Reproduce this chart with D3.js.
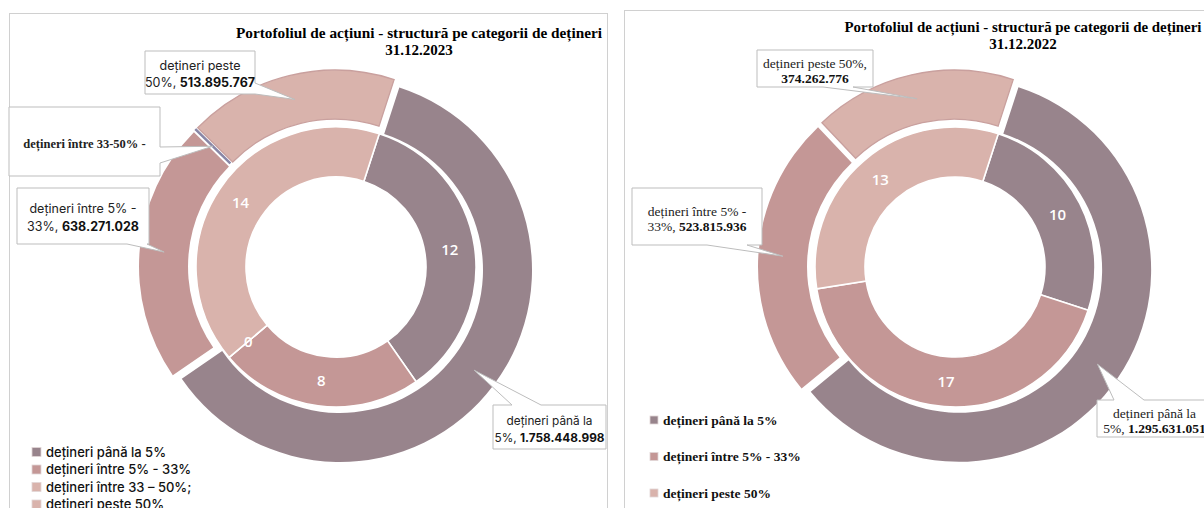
<!DOCTYPE html>
<html>
<head>
<meta charset="utf-8">
<script src="https://cdn.jsdelivr.net/npm/d3@7"></script>
<style>
  body { margin: 0; background: #fff; }
</style>
</head>
<body>
<div class="canvas"></div>
<script>
// data 31.12.2023
const categories2023 = ['până la 5%', '5% - 33%', '33 - 50%', 'peste 50%'];
const values2023 = [1758448998, 638271028, 0, 513895767];
const counts2023 = [12, 8, 0, 14];
const legend2023 = ['dețineri până la 5%', 'dețineri între 5% - 33%', 'dețineri între 33 – 50%;', 'dețineri peste 50%'];
const callouts2023 = ['dețineri până la\n5%, ', 'dețineri între 5% -\n33%, ', 'dețineri între 33-50%  -', 'dețineri peste\n50%, '];

// data 31.12.2022
const categories2022 = ['până la 5%', '5% - 33%', 'peste 50%'];
const values2022 = [1295631051, 523815936, 374262776];
const counts2022 = [10, 17, 13];
const legend2022 = ['dețineri până la 5%', 'dețineri între 5% - 33%', 'dețineri peste 50%'];
const callouts2022 = ['dețineri  până la\n5%, ', 'dețineri  între 5% -\n33%, ', 'dețineri  peste 50%,\n'];

const title = 'Portofoliul de acțiuni - structură  pe categorii de dețineri';

const color = d3.scaleOrdinal()
  .domain(['până la 5%', '5% - 33%', '33 - 50%', 'peste 50%'])
  .range(['#98848c', '#c49796', '#d9b3ac', '#d9b3ac']);

const ro = d3.formatLocale({ decimal: ',', thousands: '.', grouping: [3], currency: ['', ''] });
const fmt = ro.format(',d');

const sans = 'Inter, "Open Sans", sans-serif';
const serif = '"Liberation Serif", "Times New Roman", serif';

const svg = d3
  .select('.canvas')
  .append('svg')
  .attr('width', 1204)
  .attr('height', 508);

// callout box with a wedge pointing at the slice
const calloutPath = (b, tip) => {
  const { x, y, w, h, side, p } = b;
  const [tx, ty] = tip;
  if (side === 'bottom')
    return `M${x},${y}H${x + w}V${y + h}H${p[1]}L${tx},${ty}L${p[0]},${y + h}H${x}Z`;
  if (side === 'top')
    return `M${x},${y}H${p[0]}L${tx},${ty}L${p[1]},${y}H${x + w}V${y + h}H${x}Z`;
  return `M${x},${y}H${x + w}V${p[0]}L${tx},${ty}L${x + w},${p[1]}V${y + h}H${x}Z`;
};

const drawChart = opt => {
  const g = svg.append('g');

  // panel border
  g.append('rect')
    .attr('x', opt.panel[0] + 0.5)
    .attr('y', opt.panel[1] + 0.5)
    .attr('width', opt.panel[2])
    .attr('height', opt.panel[3])
    .attr('fill', 'none')
    .attr('stroke', '#d0d0d0');

  // title
  g.append('text')
    .attr('x', opt.titleX)
    .attr('y', opt.titleY)
    .attr('text-anchor', 'middle')
    .attr('font-family', serif)
    .attr('font-weight', 'bold')
    .attr('font-size', 15)
    .attr('textLength', opt.titleW)
    .attr('lengthAdjust', 'spacingAndGlyphs')
    .text(title);
  g.append('text')
    .attr('x', opt.titleX)
    .attr('y', opt.titleY + 17)
    .attr('text-anchor', 'middle')
    .attr('font-family', serif)
    .attr('font-weight', 'bold')
    .attr('font-size', 15)
    .text(opt.date);

  const chart = g.append('g').attr('transform', `translate(${opt.cx}, ${opt.cy})`);
  const start = (18 * Math.PI) / 180;
  const pie = d3
    .pie()
    .sort(null)
    .value(d => d.v)
    .startAngle(start)
    .endAngle(start + 2 * Math.PI);

  // inner ring: number of holdings
  const innerArc = d3.arc().innerRadius(90).outerRadius(140);
  const inner = pie(opt.cats.map((c, i) => ({ c, v: opt.counts[i] })));
  chart
    .selectAll('path.inner')
    .data(inner)
    .join('path')
    .attr('class', 'inner')
    .attr('d', innerArc)
    .attr('fill', d => color(d.data.c))
    .attr('stroke', '#fff')
    .attr('stroke-width', 1.6);

  // outer ring: value, exploded slices
  const outerArc = d3.arc().innerRadius(143).outerRadius(192);
  const outer = pie(opt.cats.map((c, i) => ({ c, v: opt.values[i] })));
  const shift = d => {
    const a = (d.startAngle + d.endAngle) / 2;
    return [Math.sin(a) * 5, -Math.cos(a) * 5];
  };
  chart
    .selectAll('path.outer')
    .data(outer)
    .join('path')
    .attr('class', 'outer')
    .attr('transform', d => `translate(${shift(d)})`)
    .attr('d', outerArc)
    .attr('fill', d => color(d.data.c))
    .attr('stroke', d => (d.value === 0 ? '#8986a6' : d.data.c === 'peste 50%' ? '#c9a09e' : 'none'))
    .attr('stroke-width', d => (d.value === 0 ? 2.6 : 1.3));

  // counts
  chart
    .selectAll('text.count')
    .data(inner)
    .join('text')
    .attr('class', 'count')
    .attr('x', d => innerArc.centroid(d)[0])
    .attr('y', d => innerArc.centroid(d)[1])
    .attr('dy', '0.36em')
    .attr('text-anchor', 'middle')
    .attr('fill', '#fff')
    .attr('font-family', '"Open Sans", sans-serif')
    .attr('font-weight', 600)
    .attr('font-size', 15)
    .text(d => d.data.v);

  // callouts
  outer.forEach((d, i) => {
    const b = opt.boxes[i];
    const c = outerArc.centroid(d);
    const s = shift(d);
    const tip = [opt.cx + c[0] + s[0], opt.cy + c[1] + s[1]];
    g.append('path')
      .attr('d', calloutPath(b, tip))
      .attr('fill', '#fff')
      .attr('stroke', '#bdbdbd');

    const lines = opt.callouts[i].split('\n');
    const lh = b.lh;
    const y0 = b.y + b.h / 2 + 2 - ((lines.length - 1) * lh) / 2;
    lines.forEach((line, k) => {
      const t = g
        .append('text')
        .attr('x', b.x + b.w / 2 + (b.dx || 0))
        .attr('y', y0 + k * lh)
        .attr('dy', '0.35em')
        .attr('text-anchor', 'middle')
        .attr('font-family', b.font)
        .attr('font-size', b.size)
        .attr('font-weight', b.bold ? 'bold' : 'normal')
        .attr('fill', '#222');
      t.append('tspan').text(line);
      if (k === lines.length - 1 && d.value > 0) {
        t.append('tspan').attr('font-weight', 'bold').attr('fill', '#111').text(fmt(d.value));
      }
    });
  });

  // legend
  const leg = g
    .selectAll('g.legend')
    .data(opt.legend)
    .join('g')
    .attr('class', 'legend')
    .attr('transform', (d, i) => `translate(${opt.legX}, ${opt.legY + i * opt.legStep})`);
  leg
    .append('rect')
    .attr('x', 0)
    .attr('y', -opt.sq / 2)
    .attr('width', opt.sq)
    .attr('height', opt.sq)
    .attr('fill', (d, i) => color(opt.legendCats[i]))
    .attr('stroke', '#e2d6d6')
    .attr('stroke-width', 0.8);
  leg
    .append('text')
    .attr('x', opt.sq + 5)
    .attr('dy', '0.35em')
    .attr('font-family', opt.legFont)
    .attr('font-weight', opt.legWeight)
    .attr('font-size', opt.legSize)
    .attr('fill', '#111')
    .text(d => d);
};

drawChart({
  panel: [9, 13, 598, 520],
  titleX: 419,
  titleY: 38,
  titleW: 366,
  date: '31.12.2023',
  cx: 336,
  cy: 267,
  cats: categories2023,
  values: values2023,
  counts: counts2023,
  callouts: callouts2023,
  boxes: [
    { x: 493, y: 405, w: 113, h: 44, side: 'top', p: [512, 541], font: sans, size: 11.8, lh: 17 },
    { x: 17, y: 188, w: 132, h: 56, side: 'bottom', p: [127, 147], font: sans, size: 12.5, lh: 18 },
    { x: 9, y: 107, w: 151, h: 69, side: 'right', p: [147, 163], font: serif, size: 12.5, lh: 17, bold: true, dx: 0 },
    { x: 145, y: 51, w: 110, h: 43, side: 'right', p: [83, 94], font: sans, size: 12.5, lh: 17 }
  ],
  legend: legend2023,
  legendCats: categories2023,
  legX: 32,
  legY: 452,
  legStep: 17.5,
  sq: 9,
  legFont: sans,
  legWeight: 500,
  legSize: 13
});

drawChart({
  panel: [624, 10, 600, 520],
  titleX: 1023,
  titleY: 32,
  titleW: 357,
  date: '31.12.2022',
  cx: 955,
  cy: 267,
  cats: categories2022,
  values: values2022,
  counts: counts2022,
  callouts: callouts2022,
  boxes: [
    { x: 1097, y: 400, w: 125, h: 37, side: 'top', p: [1114, 1144], font: serif, size: 13.5, lh: 15, dx: -5 },
    { x: 632, y: 188, w: 130, h: 57, side: 'bottom', p: [707, 747], font: serif, size: 13.5, lh: 15 },
    { x: 757, y: 50, w: 116, h: 37, side: 'bottom', p: [823, 853], font: serif, size: 13.5, lh: 15 }
  ],
  legend: legend2022,
  legendCats: categories2022,
  legX: 650,
  legY: 420,
  legStep: 36.5,
  sq: 8,
  legFont: serif,
  legWeight: 'bold',
  legSize: 13.5
});
</script>
</body>
</html>
